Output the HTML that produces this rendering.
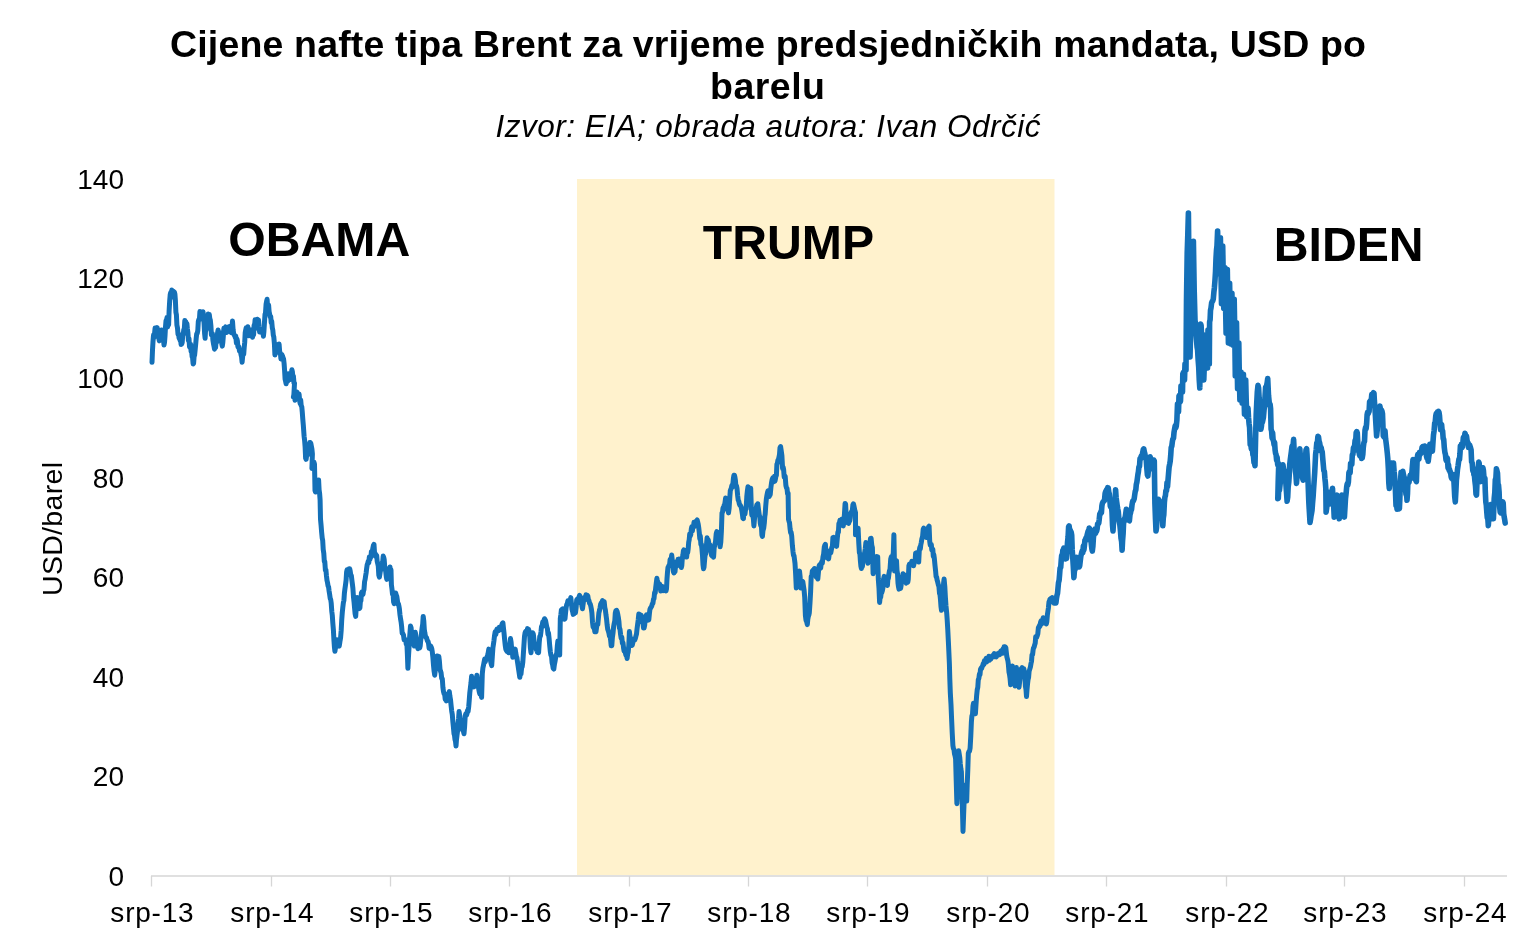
<!DOCTYPE html>
<html lang="hr">
<head>
<meta charset="utf-8">
<title>Cijene nafte tipa Brent</title>
<style>
html,body{margin:0;padding:0;background:#fff;}
body{width:1536px;height:945px;overflow:hidden;position:relative;font-family:"Liberation Sans",Arial,sans-serif;}
svg{position:absolute;left:0;top:0;display:block}
text{font-family:"Liberation Sans",Arial,sans-serif;fill:#000}
</style>
</head>
<body>
<svg width="1536" height="945" viewBox="0 0 1536 945">
<rect x="0" y="0" width="1536" height="945" fill="#ffffff"/>
<!-- Trump band -->
<rect x="577" y="179" width="477.5" height="696" fill="#FFF2CD"/>
<!-- title -->
<text x="768" y="57" font-size="37.5" font-weight="bold" text-anchor="middle" textLength="1196" lengthAdjust="spacing">Cijene nafte tipa Brent za vrijeme predsjedničkih mandata, USD po</text>
<text x="767.5" y="99" font-size="37.5" font-weight="bold" text-anchor="middle" textLength="115" lengthAdjust="spacing">barelu</text>
<text x="768" y="136.8" font-size="31.5" font-style="italic" text-anchor="middle" textLength="545" lengthAdjust="spacing">Izvor: EIA; obrada autora: Ivan Odrčić</text>
<!-- y labels -->
<g font-size="28" text-anchor="end">
<text x="124" y="188.7">140</text>
<text x="124" y="288.3">120</text>
<text x="124" y="387.9">100</text>
<text x="124" y="487.5">80</text>
<text x="124" y="587.1">60</text>
<text x="124" y="686.8">40</text>
<text x="124" y="786.4">20</text>
<text x="124" y="886.0">0</text>
</g>
<text transform="translate(61.5,529) rotate(-90)" font-size="28.5" text-anchor="middle" textLength="134" lengthAdjust="spacing">USD/barel</text>
<!-- axis -->
<g stroke="#D6D6D6" stroke-width="1.7" fill="none">
<path d="M151 876H1507"/>
<path stroke-width="1.3" d="M151.5 876v10.5M271.5 876v10.5M390.5 876v10.5M509.5 876v10.5M629.5 876v10.5M748.5 876v10.5M867.5 876v10.5M987.5 876v10.5M1106.5 876v10.5M1226.5 876v10.5M1344.5 876v10.5M1464.5 876v10.5"/>
</g>
<g font-size="28" text-anchor="middle">
<text x="152" y="922" textLength="83.3" lengthAdjust="spacing">srp-13</text>
<text x="272" y="922" textLength="83.3" lengthAdjust="spacing">srp-14</text>
<text x="391" y="922" textLength="83.3" lengthAdjust="spacing">srp-15</text>
<text x="510" y="922" textLength="83.3" lengthAdjust="spacing">srp-16</text>
<text x="630" y="922" textLength="83.3" lengthAdjust="spacing">srp-17</text>
<text x="749" y="922" textLength="83.3" lengthAdjust="spacing">srp-18</text>
<text x="868" y="922" textLength="83.3" lengthAdjust="spacing">srp-19</text>
<text x="988" y="922" textLength="83.3" lengthAdjust="spacing">srp-20</text>
<text x="1107" y="922" textLength="83.3" lengthAdjust="spacing">srp-21</text>
<text x="1227" y="922" textLength="83.3" lengthAdjust="spacing">srp-22</text>
<text x="1345" y="922" textLength="83.3" lengthAdjust="spacing">srp-23</text>
<text x="1465" y="922" textLength="83.3" lengthAdjust="spacing">srp-24</text>
</g>
<!-- names -->
<g font-size="48.2" font-weight="bold" text-anchor="middle">
<text x="319.3" y="256.3">OBAMA</text>
<text x="788.5" y="258.7">TRUMP</text>
<text x="1348.7" y="260.5">BIDEN</text>
</g>
<!-- LINE -->
<g id="line" fill="none" stroke="#1470B8" stroke-linejoin="round" stroke-linecap="round">
<polyline stroke-width="5.0" points="152,362.3 152.5,350.1 153,341.5 153.5,335.1 154.1,337.4 154.6,333.1 155.1,327.9 155.6,331.9 156.2,329.4 156.7,330 157.2,327.6 157.7,334.4 158.3,331.8 158.8,338 159.3,340.9 159.8,333.8 160.4,331.3 160.9,331.9 161.4,330 161.9,335.5 162.4,330.3 162.9,333.4 163.5,339.6 164,345 164.5,342.5 165,336 165.5,326.8 166,320.6 166.5,326.4 167,317.5 167.6,326.9 168.1,321.8 168.6,324.8 169.1,311 169.7,300.6 170.2,294.6 170.7,292.5 171.2,297.4 171.8,290.1 172.3,294.2 172.8,294.5 173.3,291.3 173.9,292.8 174.4,292 174.9,294 175.4,300.8 175.9,312.3 176.4,314.7 176.9,325.1 177.5,328 178,334.2 178.5,333.8 179.1,338.2 179.6,338.4 180.1,340.4 180.6,338.9 181.1,344.4 181.7,344 182.2,342.5 182.7,335.5 183.2,334.5 183.8,329.6 184.3,328.9 184.8,320.6 185.3,324.7 185.8,321.7 186.4,330.6 186.9,323.4 187.4,329 187.9,332.6 188.4,340.5 189,338.7 189.5,346.7 190,347.6 190.6,344.1 191.1,351.5 191.6,350.8 192.1,356.6 192.6,357.8 193.1,363.9 193.6,363.3 194.1,356.5 194.6,355.2 195.2,349.2 195.7,344.1 196.2,338.3 196.7,333.7 197.2,333.5 197.8,330.5 198.3,321.7 198.8,319.6 199.4,319.8 199.9,311.6 200.4,314.4 200.9,316 201.4,314.9 202,318.1 202.5,315.7 203,311.8 203.5,316.2 204.1,323.9 204.6,333.4 205.1,338.3 205.6,329.4 206.1,330 206.7,323 207.2,318.5 207.7,318.5 208.2,313.9 208.8,321.3 209.3,314.6 209.8,318.5 210.3,320 210.9,325.7 211.4,334.9 211.9,335.2 212.4,333.6 212.9,340.1 213.5,343.9 214,346.1 214.5,349.2 215,347.9 215.6,347.6 216.1,341 216.6,342.5 217.1,337.5 217.6,332.7 218.1,330 218.6,335.3 219.2,338.7 219.7,332.5 220.2,334.7 220.7,337.3 221.2,339.4 221.8,344 222.3,346.1 222.8,342.7 223.4,335.1 223.9,328.2 224.4,329 225,327.9 225.6,327 226.2,328.8 226.7,332.5 227.3,329.5 227.9,327.4 228.5,326.9 229,329.4 229.6,331.3 230.1,326.2 230.6,332.1 231.2,332.6 231.9,327.7 232.5,321.1 233.1,329.7 233.7,333.6 234.3,335.2 234.8,335.8 235.3,337.5 235.8,336.1 236.4,343.1 236.9,339 237.4,340.9 237.9,346.7 238.4,346.2 238.9,347.2 239.5,351 240,350.1 240.5,351.5 241.1,355 241.6,357 242.1,362.3 242.6,357 243.1,349.7 243.7,354.2 244.2,347.6 244.7,342.5 245.2,332.7 245.7,330 246.2,327.7 246.8,328.7 247.3,329 247.8,326.7 248.3,334.3 248.9,335.7 249.4,331 249.9,331.7 250.4,332.9 250.9,329.9 251.5,331.1 252,334.6 252.5,337.3 253,332 253.6,334.9 254.1,325.2 254.6,325.8 255.1,319.8 255.6,328.5 256.2,323 256.7,321.7 257.3,319.2 257.9,324.2 258.5,319.9 259,326.2 259.6,331.9 260.2,331.6 260.8,329 261.3,332.5 261.8,329.4 262.4,331.9 262.9,331.3 263.4,336.2 263.9,331.7 264.5,322 265,314.4 265.5,313 266.1,303.9 266.6,301.4 267.1,299.3 267.6,306.6 268.1,309.3 268.6,305 269.1,311.6 269.6,314 270.2,317 270.7,316.5 271.2,322.8 271.7,321.1 272.3,327.9 272.8,330 273.3,335.2 273.8,337 274.4,343.7 274.9,355 275.4,350 276,347.1 276.5,346.7 277,348.1 277.5,350.3 278.1,344.6 278.6,349 279.1,344.1 279.8,353.5 280.4,353.1 280.9,358.9 281.5,354.7 282,354.8 282.5,356.3 283,357.5 283.6,359.2 284.1,363.5 284.6,370.6 285.1,379.1 285.6,381.2 286.1,383.8 286.7,379.6 287.2,380.6 287.7,381.3 288.3,373.8 288.8,377.1 289.3,377.8 289.8,379.6 290.3,377.6 290.9,376.5 291.4,373.2 291.9,369.7 292.4,371.9 292.9,377.5 293.4,376 294,383.3 294.5,383.3 293.9,394.5 293.4,396.9 293.9,395.8 294.4,395.5 295,400.3 295.5,397.9 296,392.5 296.6,391.9 297.1,392.3 297.6,394.8 298.1,399.4 298.6,399.4 299.1,394.1 299.7,401.3 300.2,403.6 300.7,400 301.2,405.6 301.8,407 302.3,412.5 302.8,419.2 303.3,425 304.1,436.2 304.6,440.4 305.1,446.7 305.6,458.1 306.1,459.3 306.6,455.9 307.2,453.1 307.7,454.8 308.2,448.9 308.7,450.8 309.3,448.7 309.8,442.4 310.3,442.5 310.8,443.3 311.4,446.5 311.9,448.9 312.4,454 311.9,468.5 312.4,468.4 312.9,464.9 313.5,465.4 314,462.2 314.5,464.4 315,490.4 315.5,492 316,486.3 316.5,485.6 317.1,485.1 317.6,486.2 318.1,480.9 318.6,480 319.1,489.9 319.6,493.3 320.1,500 320.5,519 321.1,525.6 321.6,531.9 322.2,538.1 322.7,540.6 323.2,549.3 323.8,553.4 324.3,561.4 324.8,561.7 325.4,570.4 325.9,569.8 326.4,575.3 327,580.4 327.5,582.5 328,585.7 328.6,587.1 329.1,591.1 329.6,594.2 330.2,598.4 330.7,599.5 331.2,603 331.8,611.5 332.3,615.5 332.8,622.8 333.4,630 333.9,639.7 334.4,646.9 334.9,651.3 335.4,648.4 335.9,645.8 336.5,644 337,639.7 337.6,643.5 338.1,642.5 338.6,645 339.2,646 339.7,643.2 340.1,640.5 340.6,637.6 341.2,630.2 341.7,620.4 342.3,612.2 342.8,607.6 343.4,602.5 343.9,600.5 344.4,593.1 344.9,589.1 345.5,584.9 346.1,580.1 346.6,572 347.1,569.8 347.6,571.1 348.1,573 348.6,571.7 349.1,568.8 349.7,568.8 350.2,571 350.8,575.4 351.3,575.4 351.9,580.4 352.4,584.1 352.9,588.4 353.5,597.3 354,601.6 354.6,608.2 355.1,613.8 355.7,616.4 356.2,608 356.6,605 357.1,597.4 357.7,600.5 358.2,599.5 358.8,606 359.3,608.6 359.9,607.9 360.4,601.3 360.9,600.8 361.4,593.1 361.9,592 362.4,592 363,594.5 363.5,591 364,589.4 364.6,581.5 365.1,579.5 365.6,576.2 366.1,573.1 366.6,568.8 367.2,564.7 367.7,563.5 368.2,561.2 368.8,562.8 369.3,557.1 369.8,559.6 370.4,557.8 370.9,557.1 371.4,551.5 371.9,551.3 372.4,551 372.9,547.9 373.4,545.5 374,544.4 374.5,552.6 375.1,553.2 375.6,556.3 376.2,555 376.7,555.6 377.2,561.4 377.8,563.8 378.3,566.3 378.8,575 379.4,577.2 380,573.3 380.5,569.9 381.1,569.8 381.6,565.9 382.1,565.7 382.7,561.7 383.2,556.1 383.7,557.4 384.2,559.6 384.8,567.6 385.3,567.7 385.8,572.1 386.3,576.8 386.8,579.4 387.4,573.6 387.9,570.1 388.5,569.8 389,571 389.5,569.3 390,567 390.5,572.6 391,569.8 391.4,584.7 392,589.3 392.5,594.2 393.1,593.6 393.6,602 394.2,603.7 394.7,597.6 395.2,598.8 395.7,593.1 396.2,594.9 396.8,596.4 397.3,599.8 397.9,604.1 398.4,603.7 398.9,606 399.4,608.9 400,615 400.5,618.5 401.1,622 401.6,626.2 402.2,633.3 402.8,633.6 403.5,635.1 404.1,639.7 404.7,638.9 405.2,640.4 405.8,641.2 406.3,644.4 406.9,643.9 407.4,655 407.9,668.3 408.4,658.2 409,648.1 409.5,639 410,632.5 410.5,625.9 411.1,627.8 411.6,633.7 412.2,639.7 412.7,638.7 413.2,644.1 413.8,644.7 414.3,646 414.8,637.5 415.3,632.3 415.9,635.9 416.4,642 416.9,641.3 417.5,647.1 418,648.6 418.6,646.3 419.1,646.4 419.7,648 420.2,646 420.7,640.5 421.2,636.2 421.7,631.2 422.2,627.3 422.7,624.1 423.2,616.4 423.8,621.1 424.3,629.5 424.9,633.3 425.4,636 425.9,637.2 426.5,637.6 427,639.7 427.5,641 428.1,641.5 428.6,644 429.1,648.1 429.6,645.6 430.1,648.8 430.7,646 431.2,647 431.8,648.8 432.3,651.9 432.9,657.6 433.5,665.2 434.1,671.2 434.7,675.2 435.3,670.2 435.8,662.4 436.4,657.6 437,656 437.6,655.9 438.2,656.5 438.8,656.4 439.4,661.1 440,669.3 440.6,671.4 441.1,672.9 441.7,678.6 442.3,678.7 442.9,687.3 443.5,691.6 444.1,693.7 444.7,694.2 445.2,699.3 445.8,698.2 446.4,700.9 447,698.4 447.6,695 448.1,694.8 448.7,693.3 449.3,691.6 449.9,696.3 450.5,699.6 451.1,705.6 451.7,711.1 452.3,714.5 452.9,722 453.4,727 454,733.8 454.5,735.3 455,739.6 455.5,741.3 456,746.1 456.5,739.4 457,735.5 457.5,731.4 458,723.7 458.6,718.5 459.1,711.5 459.6,714.8 460.1,719 460.6,721.8 461.1,724.4 461.7,727.1 462.3,729.7 462.8,729.6 463.4,731.2 464,733.8 464.6,726.9 465.2,716.2 465.8,713.8 466.4,715.3 466.9,714 467.5,710.5 468.1,711.5 468.7,706.7 469.2,700.7 469.8,692.7 470.4,687.8 471,682.9 471.6,676.3 472.2,680.4 472.8,679.9 473.3,684.4 473.9,686.9 474.5,684.6 475.1,683.8 475.7,681.3 476.3,679.1 476.9,675.2 477.5,679.7 478,685.2 478.6,688.3 479.2,691.6 479.8,693.9 480.4,693.3 481,693.8 481.6,697.4 482.3,673.8 482.9,668.1 483.5,665.2 484.1,662 484.7,659.1 485.3,661.8 485.8,659.5 486.4,658.9 487,657.3 487.6,655.2 488.2,652.8 488.8,649.1 489.4,652.3 490,653.2 490.5,660.5 491.1,663.5 491.7,665.6 492.3,656.8 492.9,648 493.5,643.9 494,640.3 494.6,635.1 495.2,631.8 495.8,634.5 496.4,630.9 497,629 497.6,630.4 498.2,628.6 498.8,630.7 499.3,627.3 499.9,629.8 500.5,628 501.1,629.4 501.7,625.4 502.3,623.4 502.9,622.8 503.4,627.6 504,632.7 504.6,639.2 505.2,645.1 505.8,649.1 506.4,650.4 507,651.3 507.5,649.1 508.1,650.2 508.7,652.7 509.3,646.7 509.9,644.6 510.5,638.6 511.1,642.2 511.6,648.3 512.2,650.1 512.8,657.3 513.4,653 514,652 514.6,652 515.2,649.1 515.8,653.3 516.4,656.5 516.9,657.7 517.5,662 518.1,665.9 518.6,669.5 519.2,673.3 519.8,677.3 520.4,672.8 521,673.9 521.6,667.9 522.2,666.7 522.8,662.1 523.3,654.9 523.9,645.6 524.5,636.5 525.1,632.7 525.7,631.4 526.3,632.4 526.9,632.2 527.5,628.6 528.1,629.3 528.6,629.3 529.2,631.6 529.8,637.1 530.4,648 531,652.7 531.6,644.5 532.1,639.8 532.7,632.7 533.3,634 533.9,639.3 534.5,644.8 535.1,645.6 535.7,644.8 536.3,649.6 536.9,649.2 537.4,652.3 538,652.6 538.6,652.7 539.2,643.1 539.8,636.3 540.4,636.1 541,631.5 541.5,626.6 542.1,626.9 542.7,622.1 543.3,622.8 543.9,620.5 544.5,618.7 545.1,619.6 545.6,620.8 546.2,624 546.8,626.9 547.4,628.8 548,634.6 548.5,633 549.1,638.6 549.7,645.4 550.3,651.3 550.9,655 551.5,655.9 552.1,662.8 552.6,664.5 553.2,668.3 553.8,669.1 554.4,664.5 555,661.4 555.6,658 556.2,655 556.8,652.9 557.3,646.1 557.9,640.9 558.5,644.9 559.1,649.9 559.7,655 560.3,618.7 560.9,614.3 561.4,609.8 562,609.3 562.6,608.9 563.2,615 563.8,613.7 564.4,619.3 565,618.7 565.6,612.5 566.1,607.9 566.7,604.6 567.3,603.7 567.9,600.7 568.5,600.8 569,603.3 569.6,601.9 570.2,600.4 570.8,597.6 571.4,603 572,609.4 572.6,611.6 573.2,614.4 573.8,612.4 574.3,613.6 574.9,609.9 575.5,612.8 576.1,607.7 576.7,599.9 577.3,599.2 577.9,600.7 578.5,599.6 579,597.1 579.6,595.3 580.2,597.6 580.8,602.9 581.4,600.9 581.9,605.8 582.5,608.7 583.1,604.1 583.7,600.1 584.3,597.6 584.9,598.6 585.5,599.5 586,594.7 586.6,596.6 587.2,595.2 587.8,596 588.4,599.6 589,600.7 589.6,603.4 590.2,603.8 590.8,606.1 591.3,608.7 591.9,612.8 592.5,622.2 593.1,626.9 593.7,627.8 594.2,627.1 594.8,631.8 595.4,630.4 596,631.7 596.6,627.2 597.2,624 597.8,624.5 598.4,618.1 598.9,612.8 599.5,610.5 600.1,607.5 600.7,604 601.3,602.8 601.9,602.3 602.5,600.7 603,602.4 603.6,604.2 604.2,601.7 604.8,607.7 605.4,610.2 606,615.2 606.6,619.4 607.1,624.7 607.7,629.2 608.3,630.9 608.9,633 609.5,636.3 610.1,636.3 610.6,639.8 611.2,645.8 611.8,645.6 612.4,637.4 613,633.2 613.6,626.9 614.2,623.5 614.8,620.8 615.3,613 615.9,610.5 616.5,610.3 617.1,611.4 617.7,614 618.3,617.2 618.9,621.3 619.4,627.9 620,629.2 620.6,634.6 621.2,638.3 621.8,637.2 622.4,643.3 623,642.7 623.6,648.2 624.1,651 624.7,650.7 625.3,652.7 625.9,655.1 626.5,654 627.1,658.5 627.7,653.6 628.2,652.1 628.8,645.6 629.4,631.6 630,636.5 630.6,639.7 631.2,640.9 631.8,645.5 632.3,645 632.9,642.4 633.5,640.4 634.1,639.3 634.7,640 635.3,638.6 635.9,636.1 636.5,634 637,629.3 637.6,624.5 638.2,620.1 638.8,614 639.4,616.5 640,615.6 640.5,617.1 641.1,615.1 641.7,618.7 642.3,622.6 642.9,621.8 643.5,628 644.1,628 644.7,624.9 645.2,619.1 645.8,616.3 646.4,614.9 647,616.3 647.6,619.2 648.2,620.2 648.8,619.8 649.4,613.7 649.9,609.5 650.5,608.1 651.1,607.1 651.7,606.2 652.3,603.9 652.9,603.4 653.5,599.1 654,598.8 654.6,592.5 655.2,592.9 655.8,586.8 656.3,582.9 656.9,578.3 657.4,582.2 658,582.1 658.5,585.1 659,583.9 659.6,583.9 660.1,585.4 660.7,590.9 661.2,589.9 661.7,590.7 662.3,588.5 662.8,586.6 663.3,589.5 663.9,590.5 664.4,588.8 664.9,587.7 665.4,590.1 666,590.8 666.5,588.9 667,578.7 667.5,572 668,567.3 668.5,566.7 669.1,565.1 669.6,564.7 670.1,559.4 670.7,561.2 671.2,558.5 671.7,555 672.2,559.5 672.8,562.1 673.4,571.6 673.9,573 674.4,570.3 675,571.7 675.5,566.1 676,564.3 676.5,566.2 677,561.4 677.6,563.5 678.1,559.3 678.6,560.2 679.2,559 679.7,560.2 680.2,562.4 680.7,564.9 681.3,567.5 681.8,565.6 682.3,558.3 682.9,555 683.4,550.8 683.9,549.9 684.5,556.1 685,551.5 685.5,552 686.1,553.1 686.6,557.1 687.1,552.7 687.7,552.4 688.2,548.6 688.7,542.3 689.2,539.7 689.7,533.9 690.2,536.2 690.8,534.5 691.3,529 691.8,526.7 692.4,530.9 692.9,526.5 693.4,527.4 694,522.2 694.5,526.3 695,523.7 695.6,523.2 696.1,522.4 696.6,520.8 697.2,520 697.7,522.2 698.2,524.1 698.8,528.2 699.3,532.8 699.8,538.9 700.3,536 700.9,544.7 701.4,544.4 701.9,548.5 702.5,555.6 703,564.8 703.5,568.8 704,567.3 704.5,561.2 705.1,555 705.6,554.2 706.1,550.8 706.6,543.4 707.1,537.7 707.7,542.5 708.2,539.7 708.8,542.9 709.3,548.6 709.9,544.7 710.4,549.4 711,552 711.5,555.2 712,555.9 712.6,552 713.1,553 713.6,557.2 714.2,547.7 714.9,544.2 715.5,541.9 716.2,533.8 716.8,531.6 717.5,534.6 718.1,532.4 718.6,538.8 719.1,538.5 719.6,541.6 720.1,546.8 720.8,542.2 721.4,531.1 722,512.9 722.5,512.2 723,508 723.6,509.8 724.1,505.3 724.6,505.1 725.1,501.8 725.6,498.1 726.1,502.2 726.6,498.6 727.2,506.5 727.9,509.1 728.5,512.9 729.1,508.4 729.8,497.3 730.3,490.7 730.8,489.4 731.3,488.3 731.8,485.6 732.3,487.1 732.8,485 733.4,478.5 733.9,475.3 734.4,475.2 734.9,477.2 735.4,480.3 735.9,486.4 736.4,485.6 737,488.3 737.7,496 738.2,500 738.8,501.3 739.3,503.7 739.8,505 740.4,505.5 740.9,506.4 741.4,508 741.9,510.9 742.4,514.2 742.9,518.1 743.4,518.7 744,512 744.5,511.3 745,513.9 745.6,508.6 746.1,509 746.8,496.6 747.4,490.8 748,486.7 748.5,490.3 749,488.1 749.6,492.8 750.2,491.6 750.7,488.2 751.3,507.7 751.8,515 752.3,513.2 752.9,515.6 753.4,519.3 753.9,525.9 754.5,518.7 755.2,511.6 755.7,511.6 756.2,508.1 756.8,504.9 757.3,504.7 757.8,503.8 758.3,508 758.8,511.6 759.3,515.4 759.8,516.8 760.3,523.2 760.8,525.8 761.4,525.8 761.9,534.9 762.4,536.4 763,530.6 763.7,528.1 764.3,523.3 764.8,516.7 765.2,513.8 765.7,506.4 766.3,499.4 767,494.9 767.6,492.1 768.1,490.7 768.6,490.5 769.2,496.6 769.7,494.8 770.2,494.7 770.9,487.5 771.5,483 772.1,479.6 772.8,477.8 773.3,482 773.8,478.4 774.4,476.4 774.9,481.3 775.4,479.1 775.9,476.4 776.4,475.2 776.9,464.1 777.4,463.4 777.9,460.1 778.4,459.8 779,456.9 779.5,454.4 780,447.8 780.6,446.5 781.3,451.3 781.9,455.6 782.6,468.6 783.1,467.1 783.6,469.3 784.2,477.1 784.7,475.6 785.2,476.5 785.9,485.5 786.5,487.8 787,488.5 787.6,494.1 788.1,493 788.5,519.1 789,521.3 789.5,522.6 790.1,528.9 790.6,532.7 791.1,532.1 791.7,535.8 792.4,545.8 793,551.6 793.5,555.3 794,555.6 794.5,559.5 795,563.3 795.6,573.4 796.3,588.1 796.8,583.4 797.4,580.9 797.9,580.2 798.4,577.7 799,572 799.5,571.1 800.1,576.5 800.8,588.1 801.3,585.4 801.8,586 802.3,581.2 802.8,581.6 803.4,585.6 804.1,590.2 804.7,597.2 805.4,615.5 806,620.2 806.7,621.8 807.3,624.6 807.8,619.2 808.3,616.5 808.8,615.2 809.3,612.9 810,602.8 810.6,592.1 811.2,576.5 811.8,576.1 812.3,571.2 812.9,570.3 813.4,572.4 814,569.2 814.5,568.5 815,568.8 815.6,570.8 816.1,576.7 816.7,574.3 817.2,577.7 817.8,579 818.5,571.5 819.1,565.9 819.6,564.9 820.2,567.4 820.7,567.9 821.2,563.3 821.8,561.7 822.3,563.3 823,556.8 823.6,554.4 824.3,547 824.9,545.1 825.4,544.3 825.9,553 826.5,552.4 827,557.7 827.5,558.1 828,556.6 828.6,558.9 829.1,555.2 829.7,552.4 830.2,550.5 830.8,552.9 831.3,550.1 831.8,547.6 832.4,546.4 832.9,537.6 833.4,537.3 833.9,539.7 834.5,539.4 835,541.9 835.5,540.9 836.1,543.4 836.6,546.4 837.2,539.4 837.9,532.1 838.4,532.2 838.9,523.4 839.4,523.3 839.9,520.4 840.5,522.9 841,524.5 841.6,519.3 842.1,519.2 842.7,525.5 843.2,525.9 843.8,523 844.5,513.1 845.1,503.4 845.6,504 846.1,514.4 846.7,514.3 847.2,522 847.7,523 848.2,522.8 848.7,523.3 849.3,517.4 849.8,520.9 850.3,517.8 850.8,513.1 851.3,511.9 851.9,512.5 852.4,509.8 852.9,504.7 853.4,503.9 853.9,505.7 854.5,508.7 855,511.2 855.5,512.6 855.5,534.7 856,532.6 856.5,529.4 857.1,529 857.6,531.1 858.1,528.2 858.8,543.3 859.4,552.9 859.9,553.7 860.4,561.1 860.9,566.3 861.4,568.5 861.9,563.4 862.4,566.6 863,559.7 863.5,560.8 864,558.1 864.6,553.2 865.3,548.6 865.9,542.5 866.4,546.4 866.9,552.4 867.4,558.7 867.9,563.3 868.4,557.9 868.9,554.5 869.5,548.1 870,543.1 870.5,538.6 871.1,538.3 871.8,545.5 872.4,547.7 873.1,573.8 873.6,571.1 874.1,566.8 874.7,567.7 875.2,565.2 875.7,560.7 876.2,559.4 876.7,556.6 877.2,557.6 877.7,556.8 878.3,579 879,588.3 879.6,602.4 880.1,597.8 880.7,597.2 881.2,592.8 881.8,592.5 882.4,590.5 882.9,588.1 883.5,579.4 884.2,576.4 884.7,578.8 885.3,576.8 885.8,582.4 886.3,584.2 886.9,584.1 887.4,585.5 887.9,579.1 888.4,578.3 888.9,573.9 889.4,571.1 890,569.3 890.7,559.2 891.3,556.8 891.8,558.2 892.3,558.2 892.8,555.4 893.3,552.9 893.9,534.7 894.6,571.1 895.2,569.7 895.9,562.1 896.5,560.7 897,570.4 897.5,573.7 898,583.2 898.5,586.8 899,589.1 899.5,584.2 900.1,587.8 900.6,588.4 901.1,585.5 901.7,578.9 902.4,576.7 903,573.8 903.5,577 904.1,574.7 904.6,581 905.2,578.6 905.7,581.6 906.2,583.1 906.7,578.3 907.3,580.1 907.8,582.2 908.3,579 908.9,565.9 909.5,564.2 910.1,563.8 910.6,565.1 911.2,563.6 911.8,561.4 912.4,562.1 912.9,561.6 913.5,565.8 914.1,563.3 914.6,561.9 915.1,560.7 915.6,553.3 916.1,552.9 916.6,556.6 917.1,554 917.7,558.6 918.2,561.1 918.7,562 919.3,550.3 919.8,547.4 920.3,549 920.8,544.8 921.3,542.5 921.9,538.7 922.6,536.5 923.2,529.5 923.7,528.2 924.2,536.1 924.8,535.1 925.3,535 925.8,537.3 926.3,537.5 926.9,531.9 927.5,535.2 928,530.5 928.5,527 929.1,526.2 929.7,541.2 930.2,544.9 930.7,544.4 931.3,544.4 931.8,550.1 932.3,550.3 932.8,549.2 933.3,556.4 933.8,554.5 934.3,558.1 935,565.5 935.6,571.1 936.1,576.8 936.6,576.9 937.1,580 937.6,581.6 938.2,584.3 938.9,586.3 939.5,593.3 940,594.7 940.5,599.7 941,606.7 941.5,610.3 942,603.7 942.5,597.9 943.1,594 943.6,583 944.1,579.1 944.8,586.5 945.4,597.3 946,606 946.7,612.9 947.2,620.2 947.8,630.2 948.4,642.1 948.9,652.9 949.4,664.2 949.8,678.7 950.3,692.6 951,704.6 951.6,719 952.2,732.6 952.9,745.5 953.4,748.5 954,749.7 954.5,753.9 955.1,756 955.6,758.7 956.2,780.1 956.9,803.7 957.5,787.4 958.1,767.6 958.7,750.8 959.2,753.8 959.8,757.9 960.3,764 960.9,769 961.4,772 961.9,792.7 962.5,811.4 963,831.5 963.6,815.5 964.2,799.3 964.8,785.2 965.4,790.9 966.1,796 966.7,801.1 967.2,784.7 967.8,769.8 968.3,753.4 968.9,751.4 969.5,751.4 970.1,748.1 970.8,735.8 971.4,721.7 971.9,716 972.5,714.2 973,705.9 973.5,703.2 974.1,706.9 974.8,709.9 975.4,713.8 976,704.7 976.6,695.9 977.2,689.9 977.8,687.2 978.3,679.7 978.9,678.3 979.4,674.1 980,674.6 980.5,669.3 981.1,668.1 981.6,668.6 982.2,666.6 982.7,665.7 983.3,663.5 983.9,664.4 984.4,660.7 985,660.8 985.6,660.2 986.2,658.4 986.7,662 987.3,659.5 987.8,660.2 988.4,660.1 988.9,656.2 989.4,660.2 990,659.4 990.5,657.8 991,658.9 991.5,657.2 992.1,656.2 992.6,656.9 993.1,655.3 993.7,655 994.2,653.7 994.7,655 995.2,656.8 995.8,656.3 996.3,656.8 996.8,655.8 997.4,653.7 997.9,654.2 998.5,654.1 999,653.1 999.6,654.6 1000.2,652.8 1000.8,651.1 1001.3,652.7 1001.9,651.6 1002.5,653.3 1003,649 1003.6,651.9 1004.1,646.8 1004.7,647.5 1005.2,646.9 1005.8,647.6 1006.3,652.2 1006.8,656.5 1007.4,658.8 1007.9,660.8 1008.4,664.7 1009,672.2 1009.5,674.3 1010.1,678.7 1010.6,684.7 1011.2,680.4 1011.8,672.9 1012.4,666.1 1012.9,671 1013.5,674.9 1014,680.3 1014.6,681.9 1015.1,686 1015.8,678.4 1016.4,667.5 1016.9,672.4 1017.4,677.1 1018,679.1 1018.5,684.4 1019,687.3 1019.5,683 1020.1,677.1 1020.7,672 1021.2,668.8 1021.7,669.8 1022.2,667.6 1022.8,672.1 1023.3,668.8 1023.8,668.7 1024.3,671.4 1024.8,675.8 1025.4,686 1026,689.6 1026.5,696.6 1027,689.9 1027.5,684.3 1028.1,679.3 1028.6,677.4 1029.1,671.4 1029.7,669.4 1030.4,667.1 1031,663.5 1031.5,661.5 1032,654.9 1032.6,654.4 1033.1,650.1 1033.6,647.6 1034.1,647.2 1034.6,645.1 1035.2,643.3 1035.7,636.8 1036.2,637 1036.7,637.2 1037.3,635.6 1037.8,633.9 1038.4,627.5 1038.9,627.8 1039.5,625.4 1040,626.2 1040.5,622.6 1041.1,620.8 1041.6,624 1042.1,622.4 1042.7,620 1043.2,617.8 1043.7,620.7 1044.2,620.6 1044.8,619.7 1045.3,619.7 1045.8,620.8 1046.3,624.1 1046.8,621.7 1047.4,614.6 1047.9,611.4 1048.4,608.1 1049,601.8 1049.5,600.8 1050,599 1050.6,598.8 1051.1,601 1051.6,598.6"/>
<polyline stroke-width="5.6" points="1051.6,598.6 1052.2,598 1052.7,598.7 1053.2,602.2 1053.8,600.2 1054.3,603 1054.8,602.3 1055.4,599.5 1055.9,603 1056.4,598.8 1057,595.2 1057.5,593.5 1058,588.1 1058.5,582.6 1059.1,580.2 1059.6,574.6 1060.1,567.9 1060.7,567.6 1061.2,560.6 1061.7,555.2 1062.2,557.5 1062.8,550.5 1063.3,550.1 1063.8,548.1 1064.4,550.9 1064.9,556.1 1065.4,558.9 1066,553.8 1066.5,558.5 1067,550.5 1067.5,542.6 1068.1,536.8 1068.6,526.8 1069.1,525.9 1069.6,529.6 1070.2,529.9 1070.7,534.8 1071.2,532.1 1071.7,535.2 1072.2,549.9 1072.8,558.5 1073.3,566.6 1073.9,577.6 1074.4,571 1075,569.4 1075.5,563.3 1076,558.5 1076.5,557.3 1077.1,562.2 1077.6,560 1078.1,566.1 1078.7,566.9 1079.2,567 1079.7,565.7 1080.2,561.5 1080.8,556.5 1081.3,554.3 1081.8,552.2 1082.3,550.8 1082.8,552.7 1083.4,545.8 1083.9,549.9 1084.4,545.8 1084.9,540.4 1085.5,539.5 1086,537.8 1086.5,540.1 1087.1,535.2 1087.6,533.1 1088.1,531.2 1088.7,533.7 1089.2,528 1089.7,528.9 1090.2,533.1 1090.7,538 1091.3,544 1091.8,548.4 1092.3,551.1 1092.9,546.1 1093.4,538 1094,533.1 1094.5,531.2 1095,529.2 1095.5,533.4 1096.1,531.5 1096.6,531.3 1097.1,528.9 1097.6,524.1 1098.2,523.5 1098.7,523.5 1099.2,519.6 1099.8,513.8 1100.3,514.1 1100.8,511.7 1101.4,512.7 1101.9,505.8 1102.4,503.3 1103,502 1103.5,501.4 1104,501 1104.5,500.6 1105.1,493.6 1105.6,491.8 1106.1,490.8 1106.7,489.7 1107.2,489.5 1107.7,487.6 1108.2,487.9 1108.8,492.1 1109.3,494 1109.8,499.3 1110.3,506.1 1110.9,507.4 1111.5,505.8 1112,512 1112.5,524.9 1113,531 1113.5,521.8 1114,517.5 1114.5,512 1115,504.5 1115.6,489.7 1116.1,497.3 1116.7,502.1 1117.2,505.6 1117.8,509.3 1118.3,511.8 1118.9,519.3 1119.4,522.5 1119.9,525.2 1120.5,531.5 1121,538.3 1121.6,541.4 1122.1,550.1 1122.6,540.2 1123.1,533.8 1123.6,522.5 1124.1,521.8 1124.7,518.3 1125.2,517.1 1125.7,513.8 1126.3,509.3 1126.8,509.8 1127.3,513.2 1127.8,514.4 1128.4,519.5 1128.9,520.4 1129.4,520.7 1130,514.6 1130.5,513 1131,509.8 1131.5,509.6 1132,505 1132.6,501.4 1133.1,501.4 1133.6,500.3 1134.2,498.7 1134.7,495 1135.2,491.6 1135.8,490 1136.3,484.4 1136.8,482.6 1137.3,479.2 1137.9,474.5 1138.4,471.7 1138.9,467 1139.5,466.4 1140,458.9 1140.5,459 1141.1,456.4 1141.6,457.6 1142.2,455.1 1142.7,452.5 1143.3,449.5 1143.8,448.9 1144.3,451.8 1144.8,453.6 1145.3,456.4 1145.8,456.9 1146.3,460.9 1146.8,467.9 1147.4,474.7 1147.9,476 1148.5,468.7 1149,467.7 1149.5,464 1150.1,456.9 1150.6,458.6 1151.2,462.1 1151.7,468.7 1152.2,467.5 1152.7,462.2 1153.2,464.7 1153.8,460 1154.3,461.2 1154.9,503.5 1155.5,519.3 1156,531 1156.5,527.8 1157,518.5 1157.5,509 1158,506.2 1158.5,499.3 1159,500.3 1159.6,502.4 1160.1,501.5 1160.6,503.2 1161.2,505.3 1161.7,503.5 1162.2,514.8 1162.8,525.7 1163.3,517.9 1163.8,514.7 1164.4,502.1 1164.9,497.1 1165.4,495.7 1165.9,490.6 1166.5,490.7 1167,482.9 1167.5,486.8 1168,480.2 1168.5,474.3 1169.1,467.1 1169.7,464.1 1170.2,461.2 1170.7,455.6 1171.2,447.6 1171.8,446.2 1172.3,442.1 1172.9,438.8 1173.5,438.3 1174,432.5 1174.6,429 1175.2,425.9 1175.8,427.7 1176.3,426 1176.9,420 1177.5,404 1178,408.2 1178.5,412 1179,396 1179.5,395.1 1180,402.1 1180.5,401 1181,386 1181.5,387 1182,387.3 1182.5,392 1182.8,374 1183.4,372.4 1183.9,380.6 1184.5,380 1185,364 1185.5,370 1186,370 1186.2,340 1186.5,300 1187.2,253 1187.8,234.6 1188.4,213 1189.2,290 1190,357 1190.5,337.7 1191,319.7 1191.5,300 1192.1,277.4 1192.8,266.2 1193.4,241.4 1194.2,290 1195,320 1195.5,324.5 1196,333.4 1196.6,341.3 1197.1,347.2 1197.6,350 1198.1,359.2 1198.7,367 1199.2,379 1199.8,388 1200.6,324 1201.1,325.4 1201.7,337.9 1202.2,338.3 1202.7,345 1203.2,365.9 1203.8,380 1204.4,362.7 1204.9,348.8 1205.5,335 1206,340.8 1206.5,350.8 1207,356.7 1207.5,368 1208,330 1208.7,342 1209.3,364 1209.6,322 1210.1,319.7 1210.5,310.3 1211,308 1211.6,303 1212.2,301.4 1212.7,301 1213.3,299 1213.9,291.9 1214.4,287.8 1215,280 1215.5,271.8 1216,258.4 1216.5,250 1217,245.5 1217.6,231 1218.1,249.4 1218.7,254.5 1219.2,273.8 1219.8,259.5 1220.4,237.7 1221,275.3 1221.5,303.8 1222.1,278.1 1222.7,246.1 1223.2,273.2 1223.8,308.4 1224.4,291.7 1225,267.7 1225.5,301.9 1226.1,333.3 1226.7,296.2 1227.3,269.5 1227.8,301 1228.4,343 1229,317.9 1229.6,283.2 1230.2,315.3 1230.7,344 1231.3,316 1231.9,293.2 1232.5,315 1233,345.1 1233.6,318.5 1234.2,299.4 1234.8,335 1235.3,376 1235.9,352.2 1236.5,322.9 1237,354.3 1237.6,388.7 1238.2,362.5 1238.8,343 1239.3,375.4 1239.9,400 1240.5,388.8 1241.1,372 1241.7,384.4 1242.2,403.1 1242.8,392.3 1243.4,374.2 1244,395.3 1244.5,414.3 1245.1,399.8 1245.7,380 1246.2,399.9 1246.8,416.6 1247.4,415.9 1248,408.1 1248.5,417.2 1249.1,424.1 1249.6,427.6 1250.2,444.5 1250.8,443.2 1251.3,448.7 1251.9,448.6 1252.4,449.6 1252.9,454.8 1253.4,455.5 1254,462.4 1254.5,462.9 1255,465.7 1255.8,429.3 1256.2,414.5 1256.7,403.9 1257.3,392.1 1258,385.2 1258.6,388.1 1259.1,397.6 1259.7,403.9 1260.3,412.6 1260.9,429.3 1261.4,426.6 1261.9,421.4 1262.4,422.1 1262.9,419.8 1263.4,417.4 1264,410.4 1264.5,406.1 1265.1,395.4 1265.6,387.4 1266.1,391.8 1266.7,385 1267.2,382.5 1267.7,378.5 1268.5,395.4 1269,400.3 1269.5,405.3 1270.1,404.4 1270.6,408.9 1271.1,429.3 1271.6,431 1272.1,438 1272.6,432.7 1273.1,439.9 1273.6,441.1 1274.1,445 1274.6,442.5 1275.1,450.2 1275.6,453.5 1276.1,454.7 1276.6,460.3 1277.1,457.3 1277.7,464.7 1278.2,462.9 1278.7,464.8 1278.2,481.6 1277.8,498.7 1278.3,498.4 1278.8,488.3 1279.4,490.3 1279.9,486.2 1280.4,481.8 1280.9,477.1 1281.4,477.9 1281.9,470.5 1282.4,468 1282.9,464.8 1283.4,467.7 1283.9,472.4 1284.5,470.6 1285,475.2 1285.5,478.4 1286,485.4 1286.6,494 1287.1,501.2 1287.7,497.2 1288.2,486.7 1288.8,481.8 1289.2,475.9 1289.7,464.8 1290.3,459.5 1290.8,455.8 1291.4,451.3 1292,446.4 1292.5,445.4 1293,446.4 1293.6,439.4 1294.2,451.7 1294.8,461.4 1295.4,471.1 1295.9,474.7 1296.5,483.4 1297.1,475.7 1297.6,469.4 1298.2,464.8 1298.7,460.1 1299.3,455.2 1299.8,448.7 1300.4,456.4 1300.9,455.6 1301.5,464.8 1302.1,471.7 1302.6,478.1 1303.2,480.1 1303.8,475.4 1304.3,466.3 1304.9,464.8 1305.5,457.8 1306,449.9 1306.6,448.7 1307,454.2 1307.5,464.8 1308.3,488.5 1308.8,501.9 1309.2,508.8 1310,522.4 1310.5,519.5 1311,516.1 1311.5,513.4 1312,510.6 1312.5,503.8 1313.1,496.8 1313.6,488.9 1314.2,480.1 1314.7,472.7 1315.1,464.8 1315.6,454.7 1316.2,449.6 1316.8,442.8 1317.4,442.4 1317.9,436.4 1318.5,436.9 1319.1,441.4 1319.6,442.7 1320.2,446.2 1320.7,450.8 1321.2,447.6 1321.7,450.6 1322.2,451.8 1322.7,458 1323.3,464.8 1323.8,470.4 1324.4,471.6 1324.9,478.5 1325.3,481.8 1325.8,488.5 1326.1,512.2 1326.7,507.9 1327.2,500.9 1327.8,491.9 1328.3,494.8 1328.8,494.8 1329.3,497.5 1329.8,500.8 1330.3,503.8 1330.8,498.6 1331.4,495.6 1332,493.3 1332.5,488.4 1333.1,501.3 1333.6,504.2 1334.2,517.1 1334.7,513.2 1335.2,504.9 1335.8,501 1336.3,501.9 1336.8,495.1 1337.3,500.4 1337.8,507.7 1338.3,508.9 1338.8,510.5 1339.3,518.8 1339.8,513.2 1340.3,510 1340.9,507.9 1341.4,503.5 1341.9,495.1 1342.4,499.3 1342.9,503.2 1343.4,505.3 1343.9,513.8 1344.4,517.1 1345,507.1 1345.5,498.7 1346.1,493.4 1346.7,486.8 1347.2,483.9 1347.8,485 1348.4,481.9 1348.9,472.9 1349.5,471.4 1350.1,472.9 1350.6,463.6 1351.2,464.7 1351.8,464.3 1352.3,454.8 1352.9,454.5 1353.5,447.6 1354,450.7 1354.6,446 1355.1,440.2 1355.7,440.8 1356.2,432.5 1356.8,431.6 1357.3,433.1 1357.9,444.7 1358.4,447.7 1358.9,451.6 1359.5,454.9 1360,456 1360.5,456.2 1361.1,453.3 1361.6,458.4 1362.2,457.9 1362.8,454.6 1363.3,447.4 1363.9,442.6 1364.5,441.3 1365,430.3 1365.6,427.4 1366.1,428.8 1366.6,423.9 1367.1,414.9 1367.6,412.3 1368.1,413.9 1368.6,412.5 1369.1,411.3 1369.6,401.9 1370.1,401.3 1370.6,400.3 1371.2,400.9 1371.8,394.2 1372.3,399.1 1372.9,394.1 1373.5,392.7 1374,393.4 1374.4,401.1 1374.9,407.1 1375.5,417.4 1376,425.8 1376.6,435.9 1377.2,430.1 1377.7,418.1 1378.3,413.9 1378.8,414 1379.4,407.5 1379.9,406.2 1380.4,409.1 1380.9,410.5 1381.5,410.1 1382,411.3 1382.5,413.9 1383.3,435.9 1383.9,436.7 1384.4,436.4 1385,430.8 1385.6,438.9 1386.1,442.6 1386.7,447.7 1387.3,453.3 1387.8,458.8 1388.4,469.7 1388.8,482.8 1389.3,488.4 1389.9,482.1 1390.4,475.2 1391,464.7 1391.5,463 1392,464.9 1392.5,467.6 1393,466.1 1393.5,463 1394.1,471.2 1394.6,476.1 1395.2,485 1396,505.3 1396.6,505.3 1397.1,509.3 1397.7,506.1 1398.3,509 1398.8,508.9 1399.4,508.7 1399.8,499.9 1400.3,485 1401.1,472.3 1401.7,475.8 1402.2,472.5 1402.8,471.3 1403.4,474.3 1403.9,476.6 1404.5,478.2 1405,483.3 1405.5,489.5 1406,494.4 1406.5,492.3 1407,500.2 1407.5,493.5 1407.9,481.6 1408.5,482.9 1409,482.3 1409.6,478.8 1410.2,475.3 1410.7,478.7 1411.3,474.8 1411.9,472.2 1412.4,466.2 1413,459.6 1413.6,466.7 1414.1,465.7 1414.7,467.2 1415.3,474.7 1415.8,480.3 1416.4,481.6 1417.2,457.9 1417.8,454.6 1418.3,458.3 1418.9,458.9 1419.5,452.3 1420,454.5 1420.6,452.8 1421.1,453.3 1421.6,450.5 1422.1,447.3 1422.6,446.7 1423.1,447.7 1423.7,449.3 1424.2,449 1424.8,446 1425.4,448.2 1425.9,447.6 1426.5,456.2 1427.1,458.5 1427.6,456.5 1428.2,461.3 1428.8,456.3 1429.3,453.3 1429.9,444.3 1430.4,448.9 1430.9,447.2 1431.4,448.2 1431.9,450.5 1432.4,451.1 1433,441.7 1433.5,434.9 1434.1,430.8 1434.7,422.9 1435.2,422.5 1435.8,415.6 1436.3,413.5 1436.8,414.5 1437.4,412.1 1437.9,412.3 1438.4,411.3 1439,412.4 1439.5,415.7 1440.1,424 1440.6,429.7 1441.1,425.6 1441.6,424.6 1442.1,430.6 1442.6,430.8 1443.2,438.9 1443.7,439.1 1444.3,447.7 1444.9,452.5 1445.4,454.3 1446,459.6 1446.5,460.8 1447,457.7 1447.5,458.8 1448,467.7 1448.5,464.7 1449,470 1449.5,469.3 1450.1,472.3 1450.6,472.2 1451.1,476.5 1451.6,478.4 1452.1,475.2 1452.6,479.1 1453.1,477.3 1453.6,474.8 1454.2,486.3 1454.7,496.4 1455.3,501.9 1455.9,491 1456.4,480.2 1457,474.8 1457.5,469.3 1458,466.1 1458.5,462.3 1459,459 1459.5,459.6 1460,453.3 1460.4,446 1460.9,448.5 1461.4,444.3 1461.9,447.8 1462.4,446.8 1462.9,442.6 1463.4,437.3 1463.9,440.4 1464.5,437.2 1465,433.2 1465.5,435 1466,440.5 1466.5,436 1467,440.1 1467.5,442.3 1468,442.6 1468.5,447.5 1469,446.1 1469.5,444.8 1470,446.2 1470.5,447.7 1471.1,450 1471.6,461.8 1472.2,463 1472.8,470.9 1473.3,468.6 1473.9,474.8 1474.4,475.2 1474.9,481 1475.5,485.8 1476,494.2 1476.5,495.1 1477.3,474.8 1477.8,473.8 1478.2,469.1 1478.7,462.1 1479.2,463.3 1479.7,474.2 1480.2,478.4 1480.7,481.6 1481.3,478.8 1481.8,477.6 1482.4,469.7 1482.9,467.8 1483.4,470.2 1483.9,476.8 1484.4,480 1484.9,478.2 1485.3,491.4 1485.8,501.9 1486.3,505.1 1486.8,512.1 1487.3,518 1487.8,518 1488.3,525.6 1488.9,517.5 1489.4,510.3 1490,505.3 1490.6,504.7 1491.1,509.7 1491.7,509.6 1492.3,512.4 1492.8,513.9 1493.4,518.8 1494.2,498.5 1494.8,492.5 1495.3,479.9 1495.9,478 1496.4,468.9 1496.9,470.5 1497.5,473.2 1498,484.4 1498.5,485 1499.1,491.9 1499.6,506.4 1500.2,512.1 1500.7,512.8 1501.2,510.9 1501.7,503.3 1502.2,503.5 1502.7,501.9 1503.2,503.1 1503.7,513.6 1504.2,517.1 1504.7,519.8 1505.2,523.1"/>
</g>
</svg>
</body>
</html>
